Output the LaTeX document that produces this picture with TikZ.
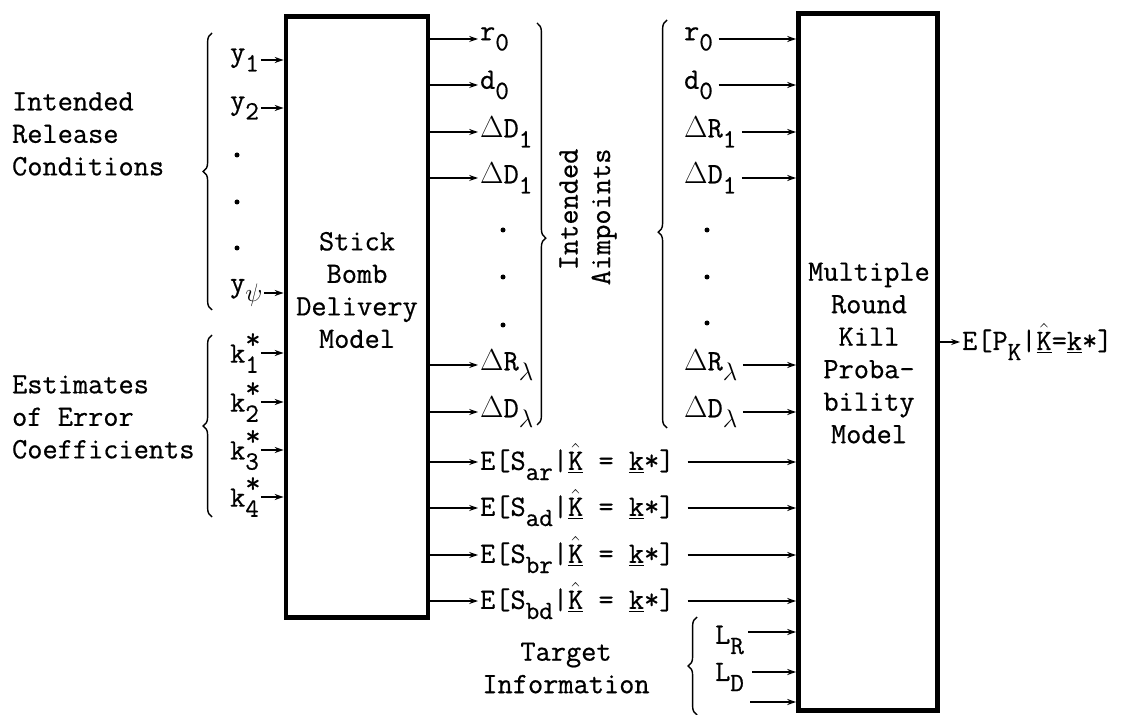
\documentclass[tikz,border=0pt]{standalone}
\usepackage{fontspec}
\setmonofont{Latin Modern Mono}[FakeBold=0.6]
\usetikzlibrary{arrows.meta,decorations.pathreplacing}

\newcommand{\tyfont}{\fontsize{16.8}{18.5}\selectfont\ttfamily}
\newcommand{\dn}[1]{\raisebox{-0.8ex}{\fontsize{15}{15}\selectfont #1}}
\newcommand{\kst}[1]{k\rlap{\raisebox{1.1ex}{*}}\dn{#1}}
\newcommand{\Kh}{\underline{$\hat{\mathtt{K}}$}}
\newcommand{\ku}{\underline{k}}

\begin{document}
\begin{tikzpicture}[
	x=0.02cm, y=-0.02cm,
	every node/.style={ font=\tyfont, inner sep=1pt },
	modelbox/.style={ draw, line width=2.8pt, inner sep=0pt },
	dotmark/.style={ circle, fill, inner sep=0pt, minimum size=0.1cm },
	feed/.style={ -{Stealth[length=5pt,width=3.4pt]}, line width=0.8pt },
	curly/.style={ decorate, decoration={brace, amplitude=5pt, aspect=#1}, line width=0.8pt },
	curly/.default=0.5
]
\useasboundingbox (0,0) rectangle (1121,715);

% the two models
\node[modelbox, minimum width=2.84cm, minimum height=12.04cm] (deliv) at (357,317) {};
\node[align=center] (delivtxt) at (357,290) {Stick\\Bomb\\Delivery\\Model};
\node[modelbox, minimum width=2.78cm, minimum height=13.96cm] (kill) at (868,362) {};
\node[align=center] (killtxt) at (869,353) {Multiple\\Round\\Kill\\Proba-\\bility\\Model};

% inputs of the delivery model
\node[align=left, anchor=west] (relcond) at (10,134) {Intended\\Release\\Conditions};
\node[align=left, anchor=west] (errcoef) at (10,417) {Estimates\\of Error\\Coefficients};
\node[anchor=west] (y1) at (228,60) {y\dn{1}};
\node[anchor=west] (y2) at (228,108) {y\dn{2}};
\node[dotmark] (ydot1) at (237,155) {};
\node[dotmark] (ydot2) at (237,202) {};
\node[dotmark] (ydot3) at (237,248) {};
\node[anchor=west] (ypsi) at (228,293) {y\dn{$\psi$}};
\node[anchor=west] (k1) at (228,353) {\kst{1}};
\node[anchor=west] (k2) at (228,402) {\kst{2}};
\node[anchor=west] (k3) at (228,450) {\kst{3}};
\node[anchor=west] (k4) at (228,497) {\kst{4}};
\draw[curly] (212,310) -- (212,33);
\draw[curly] (212,517) -- (212,335);
\foreach \n in {y1,y2,ypsi,k1,k2,k3,k4} \draw[feed] (\n.east) -- (\n.east -| deliv.west);

% intended aimpoints out of the delivery model
\node[anchor=west] (r0o) at (478,39) {r\dn{0}};
\node[anchor=west] (d0o) at (478,85) {d\dn{0}};
\node[anchor=west] (dDao) at (478,132) {$\Delta$D\dn{1}};
\node[anchor=west] (dDbo) at (478,178) {$\Delta$D\dn{1}};
\node[dotmark] (odot1) at (503,230) {};
\node[dotmark] (odot2) at (503,277) {};
\node[dotmark] (odot3) at (503,325) {};
\node[anchor=west] (dRlo) at (478,365) {$\Delta$R\dn{$\lambda$}};
\node[anchor=west] (dDlo) at (478,412) {$\Delta$D\dn{$\lambda$}};
\foreach \n in {r0o,d0o,dDao,dDbo,dRlo,dDlo} \draw[feed] (\n.west -| deliv.east) -- (\n.west);
\draw[curly=0.535] (537,23) -- (537,425);
\node[rotate=90, align=right] (aimpts) at (588,217) {Intended\\Aimpoints};

% intended aimpoints into the kill model
\node[anchor=west] (r0i) at (682,39) {r\dn{0}};
\node[anchor=west] (d0i) at (682,85) {d\dn{0}};
\node[anchor=west] (dRai) at (682,132) {$\Delta$R\dn{1}};
\node[anchor=west] (dDai) at (682,178) {$\Delta$D\dn{1}};
\node[dotmark] (idot1) at (707,230) {};
\node[dotmark] (idot2) at (707,277) {};
\node[dotmark] (idot3) at (707,323) {};
\node[anchor=west] (dRli) at (682,365) {$\Delta$R\dn{$\lambda$}};
\node[anchor=west] (dDli) at (682,412) {$\Delta$D\dn{$\lambda$}};
\draw[curly=0.48] (667,428) -- (667,20);
\foreach \n in {r0i,d0i,dRai,dDai,dRli,dDli} \draw[feed, shorten <=2pt] (\n.east) -- (\n.east -| kill.west);

% expected error sizes
\node[anchor=west] (sar) at (478,462) {E[S\dn{ar}|\Kh{} = \ku*]};
\node[anchor=west] (sad) at (478,508) {E[S\dn{ad}|\Kh{} = \ku*]};
\node[anchor=west] (sbr) at (478,555) {E[S\dn{br}|\Kh{} = \ku*]};
\node[anchor=west] (sbd) at (478,601) {E[S\dn{bd}|\Kh{} = \ku*]};
\foreach \n in {sar,sad,sbr,sbd} {
	\draw[feed] (\n.west -| deliv.east) -- (\n.west);
	\draw[feed, shorten <=0.22cm] (\n.east) -- (\n.east -| kill.west);
}

% target information
\node[align=center] (tgtinfo) at (566,668) {Target\\Information};
\node[anchor=west] (lr) at (713,640) {L\dn{R}};
\node[anchor=west] (ld) at (713,677) {L\dn{D}};
\draw[curly] (697,715) -- (697,617);
\coordinate (lrend) at (748,632);
\coordinate (ldend) at (752,672);
\coordinate (lxend) at (750,702);
\foreach \c in {lrend,ldend,lxend} \draw[feed] (\c) -- (\c -| kill.west);

% kill probability out
\node[anchor=west] (pkill) at (960,342) {E[P\dn{K}|\Kh=\ku*]};
\draw[feed] (kill.east |- pkill.west) -- (pkill.west);

\end{tikzpicture}
\end{document}
